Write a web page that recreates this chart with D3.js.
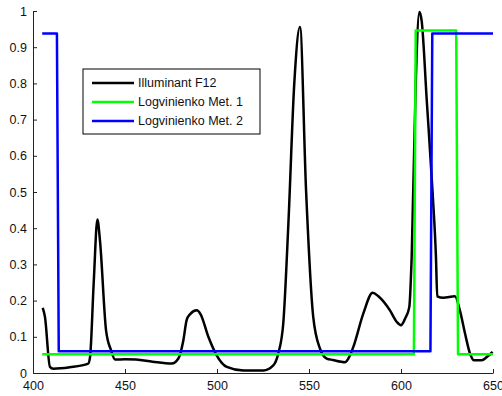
<!DOCTYPE html>
<html>
<head>
<meta charset="utf-8">
<script src="https://cdn.jsdelivr.net/npm/d3@7"></script>
<style>
  body { margin: 0; background: #fff; }
  text { font-family: "Liberation Sans", Arial, Helvetica, sans-serif; }
</style>
</head>
<body>
<div id="chart"></div>
<script>
(() => {

  // Illuminant F12 (wavelength, value)
  let f12_wl = [405.3, 406.5, 409.2, 411, 420, 430, 431, 433, 435, 436.4, 439.7, 442.4, 444.6, 450, 456, 465, 475.4, 479, 481.7, 483.5, 485.3, 489, 491.1, 495.3, 499.8, 505.3, 514.3, 525.2, 530.6, 533.3, 536, 538.8, 542, 545.1, 548.4, 552.3, 556, 559.6, 563, 569.6, 571.4, 574.1, 579.5, 584.6, 587.7, 594, 597.7, 600, 602.2, 604.5, 605.8, 608, 610, 611.2, 614, 617.2, 619, 619.7, 623, 629.3, 632, 634.8, 637.5, 639.7, 643.9, 646.6, 649.8]
  let f12_val = [0.18, 0.155, 0.017, 0.012, 0.016, 0.026, 0.044, 0.25, 0.424, 0.366, 0.118, 0.063, 0.037, 0.038, 0.037, 0.031, 0.026, 0.04, 0.09, 0.146, 0.162, 0.173, 0.162, 0.10, 0.049, 0.017, 0.007, 0.007, 0.021, 0.054, 0.136, 0.413, 0.8, 0.956, 0.505, 0.155, 0.067, 0.04, 0.036, 0.030, 0.04, 0.072, 0.164, 0.222, 0.212, 0.173, 0.141, 0.132, 0.15, 0.182, 0.32, 0.8, 0.997, 0.974, 0.753, 0.496, 0.32, 0.212, 0.208, 0.212, 0.173, 0.109, 0.054, 0.035, 0.035, 0.044, 0.058]

  // Logvinienko metamers (step functions)
  let met1_wl = [405, 607, 608, 630, 631, 650]
  let met1_val = [0.052, 0.052, 0.946, 0.946, 0.052, 0.052]
  let met2_wl = [405, 413, 414, 616, 617, 650]
  let met2_val = [0.938, 0.938, 0.06, 0.06, 0.938, 0.938]

  let series_names = ["Illuminant F12", "Logvinienko Met. 1", "Logvinienko Met. 2"]
  let series_colors = ["#000000", "#00ff00", "#0000ff"]

  let x_ticks = [400, 450, 500, 550, 600, 650]
  let y_ticks = [0, 0.1, 0.2, 0.3, 0.4, 0.5, 0.6, 0.7, 0.8, 0.9, 1]

  let svg = d3.select("#chart")
  .append("svg")
  .attr("width", 502)
  .attr("height", 396)

  let margin = {top: 11, right: 9, bottom: 23, left: 33}
  let width = 502 - margin.left - margin.right
  let height = 396 - margin.top - margin.bottom

  let x = d3.scaleLinear()
  .domain([400, 650])
  .range([margin.left, margin.left + width])

  let y = d3.scaleLinear()
  .domain([0, 1])
  .range([margin.top + height, margin.top])

  let series = [
    f12_wl.map((w, i) => [w, f12_val[i]]),
    met1_wl.map((w, i) => [w, met1_val[i]]),
    met2_wl.map((w, i) => [w, met2_val[i]])
  ]

  // x axis, ticks inward
  svg.append("g")
  .attr("transform", "translate(0," + (margin.top + height) + ")")
  .call(d3.axisBottom(x).tickValues(x_ticks).tickSizeInner(-4).tickSizeOuter(0).tickPadding(8))
  .call(g => g.select(".domain").attr("stroke", "#222"))
  .call(g => g.selectAll(".tick line").attr("stroke", "#222"))
  .call(g => g.selectAll("text").attr("font-size", "12.5px").attr("fill", "#111"))

  // y axis
  svg.append("g")
  .attr("transform", "translate(" + margin.left + ",0)")
  .call(d3.axisLeft(y).tickValues(y_ticks).tickFormat(d => d3.format("~g")(d)).tickSizeInner(-4).tickSizeOuter(0).tickPadding(6))
  .call(g => g.select(".domain").attr("stroke", "#222"))
  .call(g => g.selectAll(".tick line").attr("stroke", "#222"))
  .call(g => g.selectAll("text").attr("font-size", "12.5px").attr("fill", "#111"))

  let smooth = d3.line()
  .x(d => x(d[0]))
  .y(d => y(d[1]))
  .curve(d3.curveMonotoneX)

  let straight = d3.line()
  .x(d => x(d[0]))
  .y(d => y(d[1]))

  series.forEach((s, i) => {
    svg.append("path")
    .datum(s)
    .attr("d", i == 0 ? smooth : straight)
    .attr("fill", "none")
    .attr("stroke", series_colors[i])
    .attr("stroke-width", 2.5)
    .attr("stroke-linejoin", "round")
  })

  // Legend
  let legend = svg.append("g")
  .attr("transform", "translate(83,69)")

  legend.append("rect")
  .attr("width", 177)
  .attr("height", 65)
  .attr("fill", "#fff")
  .attr("stroke", "#000")
  .attr("stroke-width", 1)

  series_names.forEach((name, i) => {
    legend.append("line")
    .attr("x1", 9)
    .attr("x2", 51)
    .attr("y1", 14 + i * 19)
    .attr("y2", 14 + i * 19)
    .attr("stroke", series_colors[i])
    .attr("stroke-width", 2.5)
    legend.append("text")
    .attr("x", 55)
    .attr("y", 14 + i * 19)
    .attr("dy", "0.35em")
    .attr("font-size", "12.5px")
    .attr("fill", "#111")
    .text(name)
  })

})()
</script>
</body>
</html>
